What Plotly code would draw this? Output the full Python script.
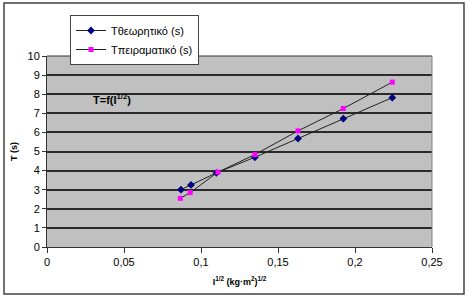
import plotly.graph_objects as go

x_theo = [0.087, 0.0935, 0.110, 0.135, 0.163, 0.1924, 0.2242]
y_theo = [3.0, 3.25, 3.88, 4.70, 5.68, 6.72, 7.82]
x_exp = [0.0866, 0.093, 0.111, 0.135, 0.163, 0.1924, 0.2242]
y_exp = [2.55, 2.85, 3.92, 4.84, 6.08, 7.25, 8.63]
names = ["Τθεωρητικό (s)", "Τπειραματικό (s)"]
x_ticks = [0, 0.05, 0.1, 0.15, 0.2, 0.25]
x_tick_labels = ["0", "0,05", "0,1", "0,15", "0,2", "0,25"]
y_ticks = list(range(0, 11))

W, H = 469, 299
L, R, T, B = 47, 37, 56, 52
pw, ph = W - L - R, H - T - B

fig = go.Figure()
fig.add_trace(go.Scatter(x=x_theo, y=y_theo, name=names[0], mode="lines+markers",
                         line=dict(color="#222222", width=1),
                         marker=dict(symbol="diamond", size=6, color="#000080")))
fig.add_trace(go.Scatter(x=x_exp, y=y_exp, name=names[1], mode="lines+markers",
                         line=dict(color="#222222", width=1),
                         marker=dict(symbol="square", size=5, color="#FF00FF")))

def px2paper_x(p):
    return (p - L) / pw

def px2paper_y(p):
    return (H - B - p) / ph

fig.add_shape(type="rect", xref="paper", yref="paper",
              x0=px2paper_x(4), x1=px2paper_x(464), y0=px2paper_y(294), y1=px2paper_y(3),
              line=dict(color="#444444", width=1.5), fillcolor="rgba(0,0,0,0)", layer="below")

fig.add_annotation(x=0.042, y=7.75, xref="x", yref="y", text="<b>T=f(I<sup>1/2</sup>)</b>",
                   showarrow=False, font=dict(size=11, color="black", family="Liberation Sans, Arial"))

fig.update_layout(
    width=W, height=H,
    margin=dict(l=L, r=R, t=T, b=B),
    paper_bgcolor="white", plot_bgcolor="#C0C0C0",
    font=dict(family="Liberation Sans, Arial", size=11, color="black"),
    showlegend=True,
    legend=dict(x=px2paper_x(70), y=px2paper_y(15), xanchor="left", yanchor="top",
                bgcolor="white", bordercolor="#444444", borderwidth=1,
                font=dict(size=11), tracegroupgap=0, itemwidth=30),
    xaxis=dict(range=[0, 0.25], tickvals=x_ticks, ticktext=x_tick_labels,
               showgrid=False, zeroline=False, showline=True, linecolor="#333333",
               linewidth=1, ticks="outside", ticklen=5, tickcolor="#333333",
               mirror=False,
               title=dict(text="<b>I<sup>1/2</sup> (kg·m<sup>2</sup>)<sup>1/2</sup></b>",
                          font=dict(size=9), standoff=11)),
    yaxis=dict(range=[0, 10], tickvals=y_ticks, showgrid=True, gridcolor="#2a2a2a",
               gridwidth=1.5, zeroline=False, showline=True, linecolor="#333333",
               linewidth=1, ticks="outside", ticklen=4, tickcolor="#333333",
               title=dict(text="<b>T (s)</b>", font=dict(size=9), standoff=8)),
)
fig.add_shape(type="line", xref="paper", yref="paper", x0=0, x1=1, y0=1, y1=1,
              line=dict(color="#333333", width=1))
fig.add_shape(type="line", xref="paper", yref="paper", x0=1, x1=1, y0=0, y1=1,
              line=dict(color="#808080", width=1))

fig.write_html("out.html")
